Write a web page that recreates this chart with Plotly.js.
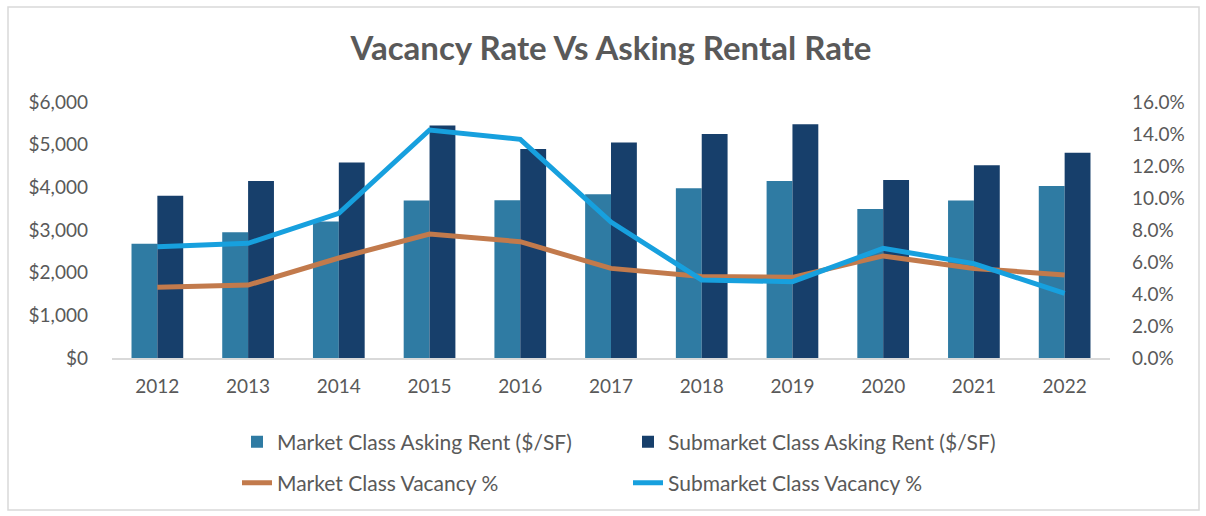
<!DOCTYPE html>
<html>
<head>
<meta charset="utf-8">
<script src="https://cdn.plot.ly/plotly-3.0.1.min.js"></script>
<style>
html,body{margin:0;padding:0;background:#fff;}
#chart{width:1206px;height:516px;}
</style>
</head>
<body>
<div id="chart"></div>
<script>
const years = ['2012','2013','2014','2015','2016','2017','2018','2019','2020','2021','2022'];
const marketRent = [2680, 2950, 3200, 3690, 3700, 3840, 3980, 4150, 3490, 3690, 4030];
const submarketRent = [3800, 4150, 4580, 5450, 4900, 5050, 5250, 5480, 4170, 4520, 4810];
const marketVacancy = [0.0442, 0.0456, 0.0625, 0.0775, 0.0727, 0.056, 0.051, 0.0504, 0.0638, 0.056, 0.0519];
const submarketVacancy = [0.0696, 0.0717, 0.0904, 0.1425, 0.1367, 0.085, 0.0488, 0.0477, 0.0685, 0.059, 0.0404];

const FONT = 'Lato, "Open Sans", sans-serif';
const GREY = '#595959';

const traces = [
  {type:'bar', name:'Market Class Asking Rent ($/SF)', x:years, y:marketRent,
   marker:{color:'#2f7ba3'}, legend:'legend', hoverinfo:'y'},
  {type:'bar', name:'Submarket Class Asking Rent ($/SF)', x:years, y:submarketRent,
   marker:{color:'#173f6b'}, legend:'legend2', hoverinfo:'y'},
  {type:'scatter', mode:'lines', name:'Market Class Vacancy %', x:years, y:marketVacancy,
   yaxis:'y2', line:{color:'#c27a4c', width:5}, legend:'legend3'},
  {type:'scatter', mode:'lines', name:'Submarket Class Vacancy %', x:years, y:submarketVacancy,
   yaxis:'y2', line:{color:'#17a0de', width:5}, legend:'legend4'}
];

const L = 112, R = 96, T = 102, B = 158, W = 1206, H = 516;
const pw = W - L - R, ph = H - T - B;
const px = v => (v - L) / pw;
const py = v => (H - B - v) / ph;

const legendCommon = {
  orientation:'h', xanchor:'left', yanchor:'middle',
  font:{family:FONT, size:21, color:GREY},
  bgcolor:'rgba(0,0,0,0)', itemwidth:30, tracegroupgap:0
};
const leg = (x, y) => Object.assign({}, legendCommon, {x:px(x), y:py(y)});

const layout = {
  width:W, height:H,
  margin:{l:L, r:R, t:T, b:B, pad:0},
  paper_bgcolor:'#ffffff', plot_bgcolor:'#ffffff',
  font:{family:FONT, color:GREY},
  title:{text:'<b>Vacancy Rate Vs Asking Rental Rate</b>', x:0.5, xref:'paper', xanchor:'center',
         y:(H-48)/H, yref:'container', yanchor:'middle',
         font:{family:FONT, size:33, color:GREY}},
  barmode:'group', bargap:0.43, bargroupgap:0,
  xaxis:{type:'category', showgrid:false, showline:true, linecolor:'#d9d9d9', linewidth:1.5,
         ticks:'', ticklabelstandoff:11, tickfont:{family:FONT, size:19, color:GREY}, zeroline:false},
  yaxis:{range:[0,6000], dtick:1000, tickprefix:'$', tickformat:',', showgrid:false, zeroline:false,
         showline:false, ticks:'', ticklabelstandoff:23, tickfont:{family:FONT, size:19, color:GREY}},
  yaxis2:{overlaying:'y', side:'right', range:[0,0.16], dtick:0.02, tickformat:'.1%', showgrid:false,
          zeroline:false, showline:false, ticks:'', ticklabelstandoff:21,
          tickfont:{family:FONT, size:19, color:GREY}},
  legend:leg(237, 442),
  legend2:leg(628, 442),
  legend3:leg(237, 483),
  legend4:leg(628, 483),
  shapes:[{type:'rect', xref:'paper', yref:'paper', x0:px(8), x1:px(1199), y0:py(510), y1:py(7),
           line:{color:'#d9d9d9', width:1.5}, fillcolor:'rgba(0,0,0,0)', layer:'below'}],
  showlegend:true
};

Plotly.newPlot('chart', traces, layout, {displayModeBar:false, staticPlot:true});
</script>
</body>
</html>
